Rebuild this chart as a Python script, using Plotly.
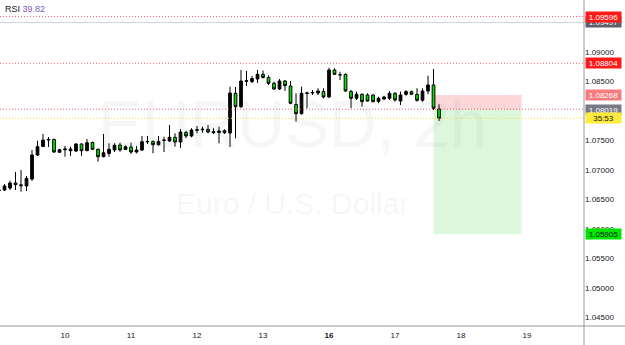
import plotly.graph_objects as go

# ---- data (EURUSD 2h) ----
opens = [1.06648,1.06656,1.06690,1.06775,1.06727,1.06724,1.06842,1.07249,1.07393,1.07503,
         1.07512,1.07295,1.07339,1.07351,1.07317,1.07436,1.07322,1.07461,1.07346,1.07220,
         1.07275,1.07334,1.07419,1.07342,1.07385,1.07300,1.07334,1.07471,1.07478,1.07424,
         1.07495,1.07487,1.07549,1.07470,1.07631,1.07571,1.07668,1.07676,1.07685,1.07627,
         1.07631,1.07661,1.07622,1.08295,1.08068,1.08498,1.08495,1.08537,1.08617,1.08563,
         1.08465,1.08368,1.08503,1.08419,1.08105,1.07949,1.08292,1.08300,1.08300,1.08326,
         1.08232,1.08690,1.08605,1.08614,1.08326,1.08210,1.08278,1.08266,1.08266,1.08156,
         1.08198,1.08210,1.08295,1.08164,1.08278,1.08322,1.08278,1.08176,1.08334,1.08436,
         1.08029]
highs = [1.06673,1.06758,1.06814,1.06961,1.06995,1.06893,1.07334,1.07492,1.07605,1.07554,
         1.07529,1.07356,1.07402,1.07390,1.07448,1.07444,1.07520,1.07475,1.07359,1.07605,
         1.07448,1.07448,1.07458,1.07410,1.07458,1.07402,1.07571,1.07571,1.07495,1.07571,
         1.07559,1.07758,1.07617,1.07690,1.07661,1.07702,1.07741,1.07729,1.07758,1.07702,
         1.07729,1.07685,1.08407,1.08402,1.08690,1.08673,1.08588,1.08690,1.08681,1.08597,
         1.08492,1.08537,1.08520,1.08503,1.08295,1.08407,1.08322,1.08351,1.08380,1.08380,
         1.08729,1.08719,1.08661,1.08634,1.08351,1.08322,1.08295,1.08295,1.08278,1.08237,
         1.08254,1.08334,1.08312,1.08322,1.08351,1.08342,1.08380,1.08380,1.08593,1.08707,
         1.08109]
lows = [1.06631,1.06639,1.06656,1.06656,1.06627,1.06639,1.06809,1.07232,1.07385,1.07385,
        1.07283,1.07288,1.07220,1.07232,1.07300,1.07232,1.07317,1.07334,1.07136,1.07210,
        1.07220,1.07300,1.07305,1.07334,1.07266,1.07278,1.07317,1.07436,1.07278,1.07410,
        1.07300,1.07470,1.07390,1.07368,1.07532,1.07549,1.07617,1.07627,1.07617,1.07605,
        1.07448,1.07605,1.07385,1.07532,1.08046,1.08419,1.08465,1.08470,1.08546,1.08436,
        1.08351,1.08351,1.08334,1.08109,1.07814,1.07936,1.08041,1.08266,1.08266,1.08210,
        1.08215,1.08605,1.08520,1.08322,1.08041,1.08181,1.08068,1.08153,1.08142,1.08126,
        1.08181,1.08181,1.08153,1.08097,1.08254,1.08266,1.08153,1.08153,1.08278,1.08012,
        1.07826]
closes = [1.06656,1.06724,1.06775,1.06746,1.06741,1.06851,1.07249,1.07390,1.07503,1.07512,
          1.07300,1.07339,1.07351,1.07322,1.07436,1.07322,1.07458,1.07346,1.07220,1.07288,
          1.07346,1.07414,1.07334,1.07390,1.07300,1.07334,1.07475,1.07478,1.07424,1.07481,
          1.07503,1.07549,1.07470,1.07639,1.07571,1.07673,1.07676,1.07685,1.07639,1.07644,
          1.07656,1.07627,1.08300,1.08068,1.08503,1.08507,1.08546,1.08617,1.08563,1.08465,
          1.08368,1.08503,1.08424,1.08126,1.07949,1.08295,1.08300,1.08309,1.08334,1.08232,
          1.08690,1.08617,1.08610,1.08334,1.08210,1.08278,1.08153,1.08164,1.08153,1.08210,
          1.08232,1.08295,1.08181,1.08266,1.08322,1.08278,1.08176,1.08334,1.08436,1.08041,
          1.07871]

day_labels = ["10", "11", "12", "13", "<b>16</b>", "17", "18", "19"]
bars_per_day = 12
# price-scale ticks that are visible (1.09500 and 1.08000 sit under the labels)
price_ticks = [1.09000, 1.08500, 1.07500, 1.07000, 1.06500, 1.06000, 1.05500, 1.05000, 1.04500]

stop_price = 1.08268
entry_price = 1.08019
target_price = 1.05905
level_red_top = 1.09596
level_gray_top = 1.09497
level_red_mid = 1.08804
level_red_entry = 1.08025
last_price = 1.07871
countdown = "35:53"
rsi_value = "39.82"
pos_start, pos_end = 79, 95

x = list(range(len(opens)))
tickvals = [(i + 1) * bars_per_day for i in range(len(day_labels))]

FONT = "Liberation Sans, Arial, sans-serif"

fig = go.Figure()
fig.add_trace(go.Candlestick(
    x=x, open=opens, high=highs, low=lows, close=closes,
    increasing=dict(fillcolor="#000000", line=dict(color="#000000", width=1)),
    decreasing=dict(fillcolor="#00e600", line=dict(color="#000000", width=1)),
    whiskerwidth=0, showlegend=False, hoverinfo="skip",
))

shapes = []
# position tool
shapes.append(dict(type="rect", xref="x", yref="y", x0=pos_start, x1=pos_end,
                   y0=entry_price, y1=stop_price, line=dict(width=0),
                   fillcolor="rgba(242,54,69,0.2)", layer="below"))
shapes.append(dict(type="rect", xref="x", yref="y", x0=pos_start, x1=pos_end,
                   y0=target_price, y1=entry_price, line=dict(width=0),
                   fillcolor="rgba(30,200,30,0.15)", layer="below"))
# horizontal levels
for lvl in (level_red_top, level_red_mid, level_red_entry):
    shapes.append(dict(type="line", xref="paper", yref="y", x0=0, x1=1, y0=lvl, y1=lvl,
                       line=dict(color="rgba(242,54,69,0.8)", width=1, dash="1px,2px")))
shapes.append(dict(type="line", xref="paper", yref="y", x0=0, x1=1,
                   y0=level_gray_top, y1=level_gray_top,
                   line=dict(color="#d1d4dc", width=1)))
shapes.append(dict(type="line", xref="paper", yref="y", x0=0, x1=1,
                   y0=last_price, y1=last_price,
                   line=dict(color="#f0e030", width=1, dash="1px,2px")))
# frame lines
shapes.append(dict(type="line", xref="paper", yref="paper", x0=0, x1=1.08, y0=0, y1=0,
                   line=dict(color="#9598a1", width=1)))
shapes.append(dict(type="line", xref="paper", yref="paper", x0=1, x1=1, y0=-0.07, y1=1,
                   line=dict(color="#9598a1", width=1)))

annotations = []
# watermark
annotations.append(dict(xref="paper", yref="paper", x=0.5, y=0.62, text="EURUSD, 2h",
                        showarrow=False, font=dict(family=FONT, size=66, color="rgba(120,123,134,0.07)")))
annotations.append(dict(xref="paper", yref="paper", x=0.5, y=0.375, text="Euro / U.S. Dollar",
                        showarrow=False, font=dict(family=FONT, size=30, color="rgba(120,123,134,0.07)")))
# legend
annotations.append(dict(xref="paper", yref="paper", x=0.005, y=0.995, xanchor="left", yanchor="top",
                        text="RSI <span style='color:#7e57c2'>" + rsi_value + "</span>",
                        showarrow=False, font=dict(family=FONT, size=9, color="#131722")))
# price labels
def price_label(y, text, bg, fg="#ffffff"):
    annotations.append(dict(xref="paper", yref="y", x=1, y=y, xanchor="left", yanchor="middle",
                            xshift=1, text=text, showarrow=False, bgcolor=bg, width=35, height=10,
                            borderpad=0, font=dict(family=FONT, size=8, color=fg)))

price_label(level_gray_top, f"{level_gray_top:.5f}", "#5d606b")
price_label(level_red_top, f"{level_red_top:.5f}", "#ff1a1a")
price_label(level_red_mid, f"{level_red_mid:.5f}", "#ff1a1a")
price_label(stop_price, f"{stop_price:.5f}", "#f77c80")
price_label(entry_price, f"{entry_price:.5f}", "#787b86")
price_label(last_price, countdown, "#ffeb3b", "#131722")
price_label(target_price, f"{target_price:.5f}", "#00e600", "#131722")

fig.update_layout(
    width=625, height=345,
    margin=dict(l=0, r=41, t=0, b=19),
    paper_bgcolor="#ffffff", plot_bgcolor="#ffffff",
    shapes=shapes, annotations=annotations,
    font=dict(family=FONT, size=8, color="#131722"),
    xaxis=dict(range=[0.18, 106.36], rangeslider=dict(visible=False), showgrid=False,
               zeroline=False, tickvals=tickvals, ticktext=day_labels, ticks="",
               ticklabelstandoff=3,
               tickfont=dict(size=8, color="#131722"), showline=False, fixedrange=True),
    yaxis=dict(range=[1.043508, 1.098763], side="right", showgrid=False, zeroline=False,
               tickvals=price_ticks, tickformat=".5f", ticks="",
               tickfont=dict(size=8, color="#131722"), showline=False),
)

fig.write_html("out.html")
